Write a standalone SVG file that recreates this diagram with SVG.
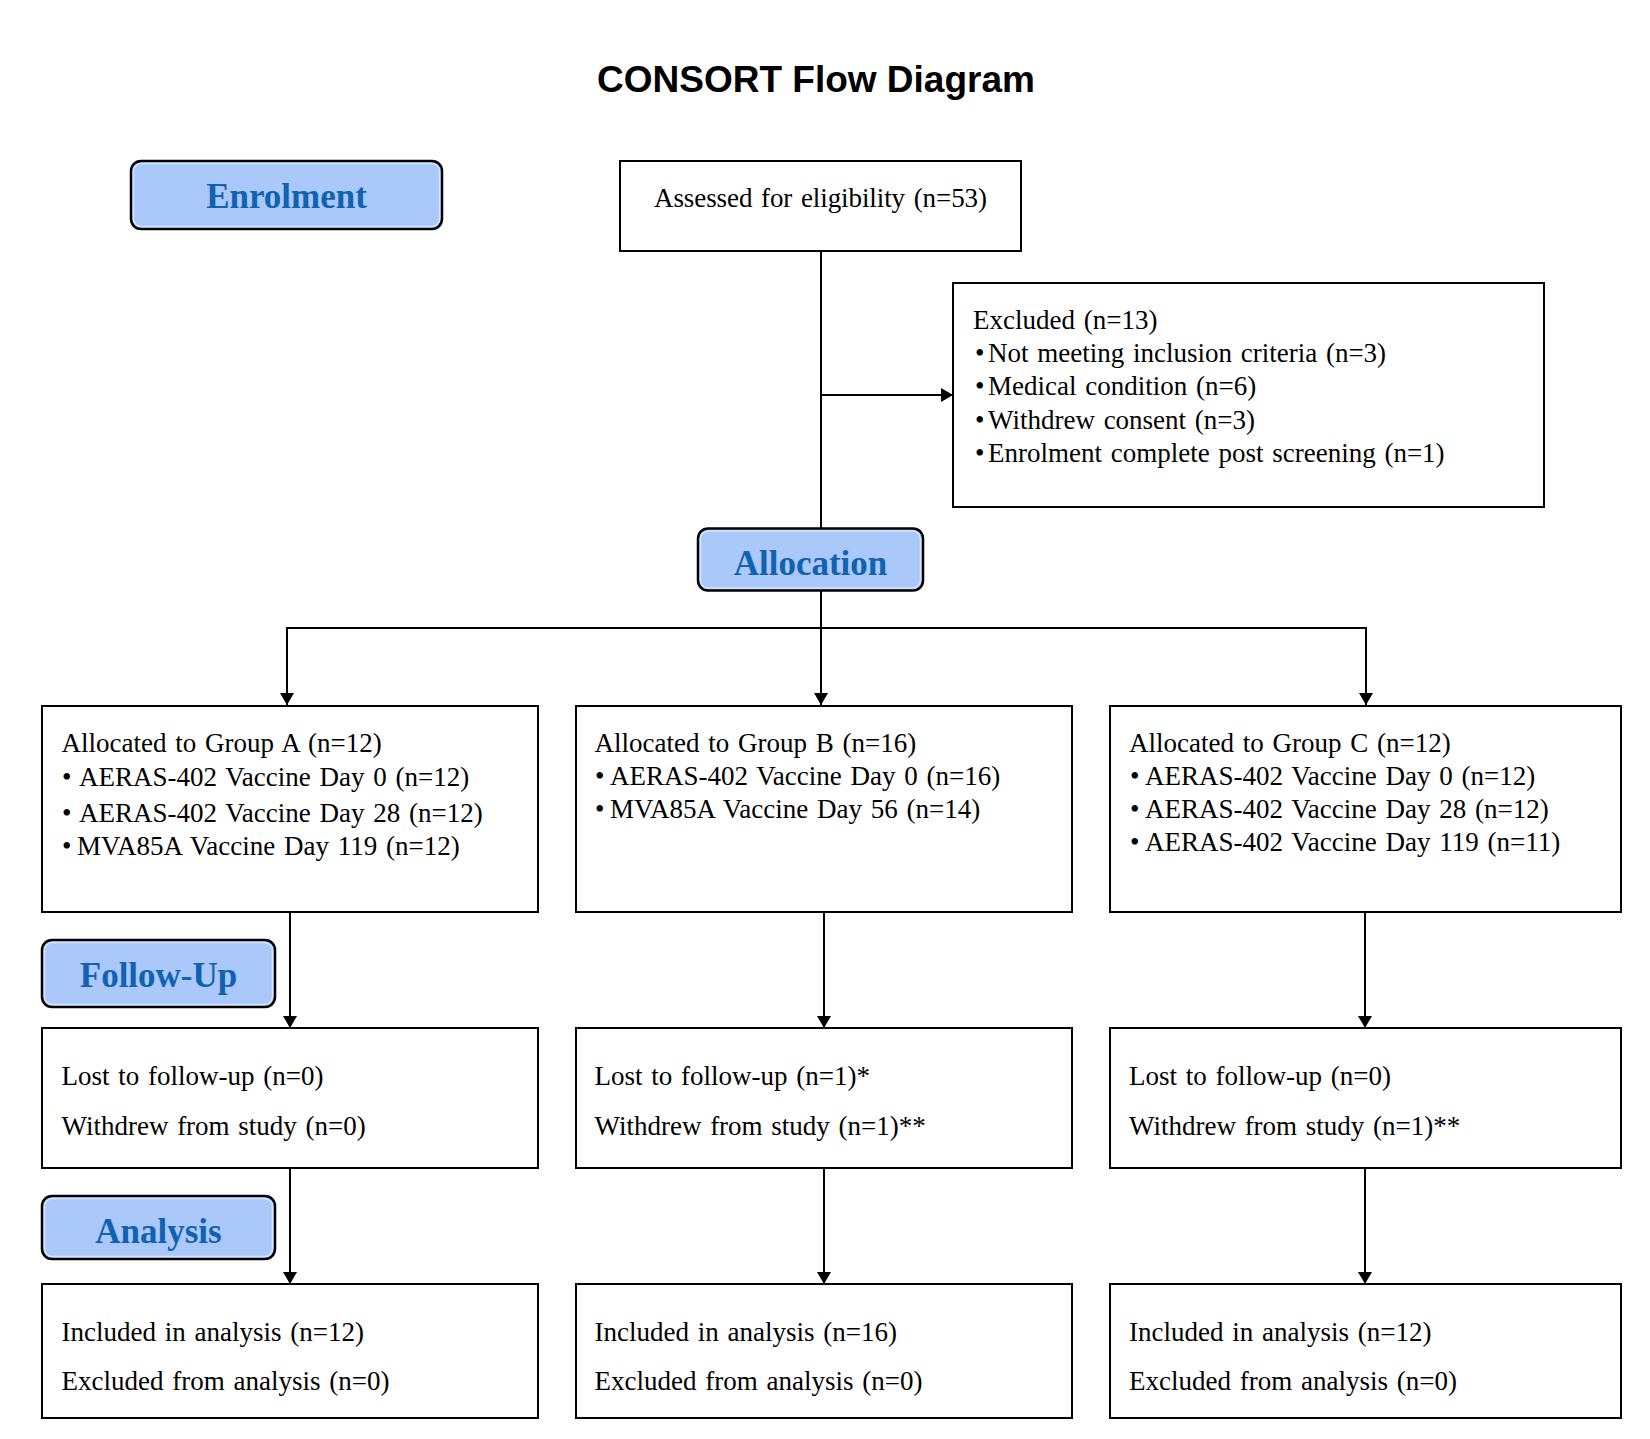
<svg xmlns="http://www.w3.org/2000/svg" width="1650" height="1439" viewBox="0 0 1650 1439">
<defs>
<style>
.box{fill:#ffffff;stroke:#000000;stroke-width:2}
.lbl{fill:#aac8f9;stroke:#000000;stroke-width:2.5}
.lblin{fill:none;stroke:#d3e3fd;stroke-width:1.5}
.lbltxt{font-family:"Liberation Serif","Times New Roman",serif;font-weight:bold;font-size:35px;fill:#1162b1;text-anchor:middle}
.t{font-family:"Liberation Serif","Times New Roman",serif;font-size:27px;fill:#000000;word-spacing:2px}
.title{font-family:"Liberation Sans",Arial,sans-serif;font-weight:bold;font-size:37px;fill:#000000;text-anchor:middle}
.ln{fill:none;stroke:#000000;stroke-width:2}
</style>
<marker id="arr" viewBox="0 0 12 14" refX="12" refY="7" markerWidth="12" markerHeight="14" markerUnits="userSpaceOnUse" orient="auto">
<path d="M0,0 L12,7 L0,14 Z" fill="#000000"/>
</marker>
</defs>
<rect x="0" y="0" width="1650" height="1439" fill="#ffffff"/>
<text class="title" x="816" y="92">CONSORT Flow Diagram</text>

<g id="connectors">
<line class="ln" x1="821" y1="251" x2="821" y2="529"/>
<line class="ln" x1="821" y1="395" x2="953" y2="395" marker-end="url(#arr)"/>
<line class="ln" x1="821" y1="591" x2="821" y2="705" marker-end="url(#arr)"/>
<line class="ln" x1="287" y1="628" x2="1366" y2="628"/>
<line class="ln" x1="287" y1="627" x2="287" y2="705" marker-end="url(#arr)"/>
<line class="ln" x1="1366" y1="627" x2="1366" y2="705" marker-end="url(#arr)"/>
<line class="ln" x1="290" y1="912" x2="290" y2="1028" marker-end="url(#arr)"/>
<line class="ln" x1="824" y1="912" x2="824" y2="1028" marker-end="url(#arr)"/>
<line class="ln" x1="1365" y1="912" x2="1365" y2="1028" marker-end="url(#arr)"/>
<line class="ln" x1="290" y1="1168" x2="290" y2="1284" marker-end="url(#arr)"/>
<line class="ln" x1="824" y1="1168" x2="824" y2="1284" marker-end="url(#arr)"/>
<line class="ln" x1="1365" y1="1168" x2="1365" y2="1284" marker-end="url(#arr)"/>
</g>

<g id="label-enrolment">
<rect class="lbl" x="131" y="161" width="311" height="68" rx="10"/>
<rect class="lblin" x="133.5" y="163.5" width="306" height="63" rx="8"/>
<text class="lbltxt" x="286.5" y="208">Enrolment</text>
</g>
<g id="node-assessed">
<rect class="box" x="620" y="161" width="401" height="90"/>
<text class="t" x="820.5" y="207" text-anchor="middle" textLength="333" lengthAdjust="spacing">Assessed for eligibility (n=53)</text>
</g>
<g id="node-excluded">
<rect class="box" x="953" y="283" width="591" height="224"/>
<text class="t" x="973" y="329">Excluded (n=13)</text>
<text class="t" y="362"><tspan x="975">•</tspan><tspan x="988">Not meeting inclusion criteria (n=3)</tspan></text>
<text class="t" y="395"><tspan x="975">•</tspan><tspan x="988">Medical condition (n=6)</tspan></text>
<text class="t" y="428.5"><tspan x="975">•</tspan><tspan x="988">Withdrew consent (n=3)</tspan></text>
<text class="t" y="461.5"><tspan x="975">•</tspan><tspan x="988">Enrolment complete post screening (n=1)</tspan></text>
</g>
<g id="label-allocation">
<rect class="lbl" x="698" y="528.5" width="225" height="62" rx="10"/>
<rect class="lblin" x="700.5" y="531" width="220" height="57" rx="8"/>
<text class="lbltxt" x="810.5" y="575">Allocation</text>
</g>

<g id="node-groupA">
<rect class="box" x="42" y="706" width="496" height="206"/>
<text class="t" x="61.5" y="752">Allocated to Group A (n=12)</text>
<text class="t" y="786"><tspan x="62">•</tspan><tspan x="79">AERAS-402 Vaccine Day 0 (n=12)</tspan></text>
<text class="t" y="821.5"><tspan x="62">•</tspan><tspan x="79">AERAS-402 Vaccine Day 28 (n=12)</tspan></text>
<text class="t" y="855"><tspan x="62">•</tspan><tspan x="77">MVA85A Vaccine Day 119 (n=12)</tspan></text>
</g>
<g id="node-groupB">
<rect class="box" x="576" y="706" width="496" height="206"/>
<text class="t" x="594.5" y="752">Allocated to Group B (n=16)</text>
<text class="t" y="784.5"><tspan x="595">•</tspan><tspan x="610">AERAS-402 Vaccine Day 0 (n=16)</tspan></text>
<text class="t" y="817.5"><tspan x="595">•</tspan><tspan x="610">MVA85A Vaccine Day 56 (n=14)</tspan></text>
</g>
<g id="node-groupC">
<rect class="box" x="1110" y="706" width="511" height="206"/>
<text class="t" x="1129" y="752">Allocated to Group C (n=12)</text>
<text class="t" y="784.5"><tspan x="1130">•</tspan><tspan x="1145">AERAS-402 Vaccine Day 0 (n=12)</tspan></text>
<text class="t" y="818"><tspan x="1130">•</tspan><tspan x="1145">AERAS-402 Vaccine Day 28 (n=12)</tspan></text>
<text class="t" y="851"><tspan x="1130">•</tspan><tspan x="1145">AERAS-402 Vaccine Day 119 (n=11)</tspan></text>
</g>

<g id="label-followup">
<rect class="lbl" x="42" y="940" width="233" height="67" rx="10"/>
<rect class="lblin" x="44.5" y="942.5" width="228" height="62" rx="8"/>
<text class="lbltxt" x="158.5" y="986.5">Follow-Up</text>
</g>
<g id="node-followA">
<rect class="box" x="42" y="1028" width="496" height="140"/>
<text class="t" x="61.5" y="1085">Lost to follow-up (n=0)</text>
<text class="t" x="61.5" y="1135">Withdrew from study (n=0)</text>
</g>
<g id="node-followB">
<rect class="box" x="576" y="1028" width="496" height="140"/>
<text class="t" x="594.5" y="1085">Lost to follow-up (n=1)*</text>
<text class="t" x="594.5" y="1135">Withdrew from study (n=1)**</text>
</g>
<g id="node-followC">
<rect class="box" x="1110" y="1028" width="511" height="140"/>
<text class="t" x="1129" y="1085">Lost to follow-up (n=0)</text>
<text class="t" x="1129" y="1135">Withdrew from study (n=1)**</text>
</g>

<g id="label-analysis">
<rect class="lbl" x="42" y="1196" width="233" height="63" rx="10"/>
<rect class="lblin" x="44.5" y="1198.5" width="228" height="58" rx="8"/>
<text class="lbltxt" x="158.5" y="1242.5">Analysis</text>
</g>
<g id="node-analysisA">
<rect class="box" x="42" y="1284" width="496" height="134"/>
<text class="t" x="61.5" y="1340.5">Included in analysis (n=12)</text>
<text class="t" x="61.5" y="1390">Excluded from analysis (n=0)</text>
</g>
<g id="node-analysisB">
<rect class="box" x="576" y="1284" width="496" height="134"/>
<text class="t" x="594.5" y="1340.5">Included in analysis (n=16)</text>
<text class="t" x="594.5" y="1390">Excluded from analysis (n=0)</text>
</g>
<g id="node-analysisC">
<rect class="box" x="1110" y="1284" width="511" height="134"/>
<text class="t" x="1129" y="1340.5">Included in analysis (n=12)</text>
<text class="t" x="1129" y="1390">Excluded from analysis (n=0)</text>
</g>
</svg>
